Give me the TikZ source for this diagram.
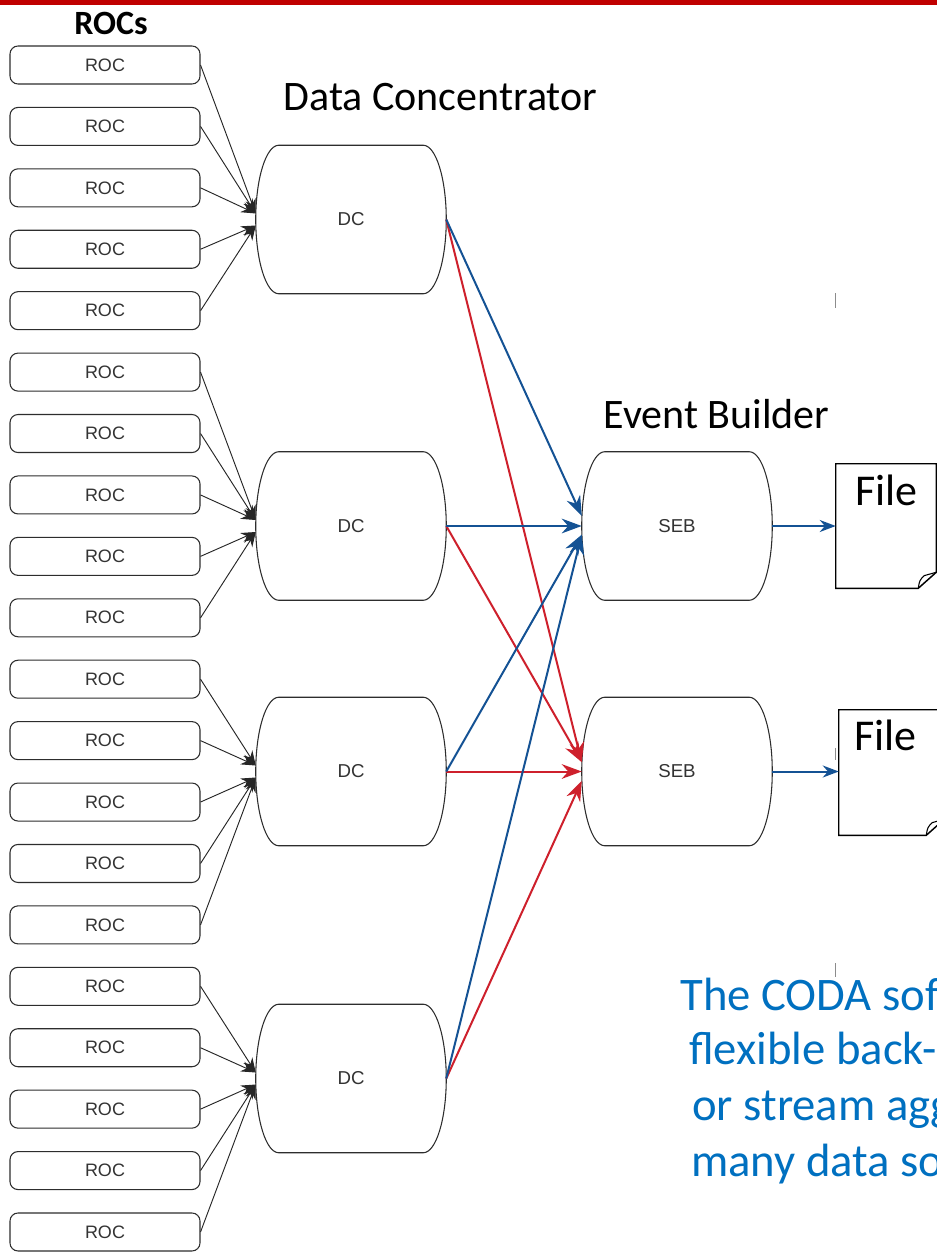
\documentclass[tikz,border=0pt]{standalone}
\usepackage{fontspec}
\newfontfamily\calibri{Carlito}
\newfontfamily\arialf{Liberation Sans}
\usetikzlibrary{arrows.meta}
\definecolor{barred}{RGB}{192,0,0}
\definecolor{linkblue}{RGB}{20,82,148}
\definecolor{linkred}{RGB}{206,32,44}
\definecolor{textblue}{RGB}{0,112,192}
\definecolor{shapegray}{RGB}{45,45,45}
\definecolor{labelgray}{RGB}{51,51,51}
\begin{document}
\begin{tikzpicture}[x=0.75pt,y=-0.75pt,
  roc/.style={draw=shapegray, line width=0.8pt, rounded corners=6pt, minimum width=142.5pt, minimum height=28.5pt, inner sep=0pt, font=\arialf\fontsize{13.5}{16}\selectfont, text=labelgray},
  barrel/.style={minimum width=142.5pt, minimum height=111pt, inner sep=0pt, font=\arialf\fontsize{14}{16}\selectfont, text=labelgray},
  shapeline/.style={draw=shapegray, line width=0.8pt},
  rocarrow/.style={draw=black!85, line width=0.7pt, -{Stealth[length=11pt,width=8pt]}},
  bluearrow/.style={draw=linkblue, line width=1.5pt, -{Stealth[length=15pt,width=11pt]}},
  redarrow/.style={draw=linkred, line width=1.5pt, -{Stealth[length=15pt,width=11pt]}},
  filearrow/.style={draw=linkblue, line width=1.5pt, -{Stealth[length=12pt,width=9pt]}},
  filebox/.style={minimum width=75pt, minimum height=93pt, inner sep=0pt},
  fileline/.style={draw=black, line width=1.1pt, line join=miter},
  filetext/.style={font=\calibri\fontsize{33}{38}\selectfont, inner sep=0pt},
  titletext/.style={font=\calibri\fontsize{31.5}{36}\selectfont, inner sep=0pt},
  bluetext/.style={font=\calibri\fontsize{35}{40}\selectfont, text=textblue, inner sep=0pt},
  tickmark/.style={draw=black!45, line width=0.6pt}
]
\useasboundingbox (0,0) rectangle (937,1252);
\fill[white] (0,0) rectangle (937,1252);
\clip (0,0) rectangle (937,1252);
\fill[barred] (0,0) rectangle (937,5);

% titles
\node[titletext, font=\calibri\bfseries\fontsize{25.5}{30}\selectfont, anchor=base] (roctitle) at (111,35) {ROCs};
\node[titletext, anchor=base] (dctitle) at (440.5,111) {Data Concentrator};
\node[titletext, anchor=base] (ebtitle) at (716.5,428) {Event Builder};

% ROC boxes
\foreach \i in {1,...,20}
  \node[roc] (roc\i) at (105,{65+61.42*(\i-1)}) {ROC};

% DC and SEB nodes
\node[barrel] (dc1) at (351,219.5) {DC};
\node[barrel] (dc2) at (351,526) {DC};
\node[barrel] (dc3) at (351,771.5) {DC};
\node[barrel] (dc4) at (351,1078.5) {DC};
\node[barrel] (seb1) at (677,526) {SEB};
\node[barrel] (seb2) at (677,771.5) {SEB};

\foreach \n in {dc1,dc2,dc3,dc4,seb1,seb2}
  \draw[shapeline] ([xshift=17.25pt]\n.north west) -- ([xshift=-17.25pt]\n.north east)
    .. controls ([xshift=-7.73pt]\n.north east) and ([yshift=30.64pt]\n.east) .. (\n.east)
    .. controls ([yshift=-30.64pt]\n.east) and ([xshift=-7.73pt]\n.south east) .. ([xshift=-17.25pt]\n.south east)
    -- ([xshift=17.25pt]\n.south west)
    .. controls ([xshift=7.73pt]\n.south west) and ([yshift=-30.64pt]\n.west) .. (\n.west)
    .. controls ([yshift=30.64pt]\n.west) and ([xshift=7.73pt]\n.north west) .. cycle;

% ROC -> DC
\foreach \r/\d/\s in {1/dc1/4.5, 2/dc1/4.5, 3/dc1/4.5, 4/dc1/-4.5, 5/dc1/-4.5,
                      6/dc2/4.5, 7/dc2/4.5, 8/dc2/4.5, 9/dc2/-4.5, 10/dc2/-4.5,
                      11/dc3/4.5, 12/dc3/4.5, 13/dc3/-4.5, 14/dc3/-4.5, 15/dc3/-4.5,
                      16/dc4/4.5, 17/dc4/4.5, 18/dc4/-4.5, 19/dc4/-4.5, 20/dc4/-4.5}
  \draw[rocarrow] (roc\r.east) -- ([yshift=\s pt]\d.west);

% DC -> SEB
\draw[redarrow] (dc1.east) -- ([yshift=7pt]seb2.west);
\draw[redarrow] (dc2.east) -- ([yshift=7pt]seb2.west);
\draw[redarrow] (dc3.east) -- (seb2.west);
\draw[redarrow] (dc4.east) -- ([yshift=-7pt]seb2.west);
\draw[bluearrow] (dc1.east) -- ([yshift=7.5pt]seb1.west);
\draw[bluearrow] (dc2.east) -- (seb1.west);
\draw[bluearrow] (dc3.east) -- ([yshift=-6.5pt]seb1.west);
\draw[bluearrow] (dc4.east) -- ([yshift=-6.5pt]seb1.west);

% Files
\node[filebox] (file1) at (886,526) {};
\node[filebox, minimum width=78.75pt, minimum height=93.75pt] (file2) at (891.5,772.5) {};
\foreach \f in {file1,file2} {
  \draw[fileline] (\f.north west) -- (\f.north east) -- ([yshift=12pt]\f.south east)
    -- ([xshift=-13.5pt]\f.south east) -- (\f.south west) -- cycle;
  \draw[fileline, line width=0.8pt] ([xshift=-13.5pt]\f.south east)
    .. controls ([xshift=-12.5pt,yshift=6pt]\f.south east) .. ([xshift=-9pt,yshift=9.5pt]\f.south east)
    -- ([yshift=12pt]\f.south east);
}
\node[filetext, anchor=base] (file1txt) at (886.5,505) {File};
\node[filetext, anchor=base] (file2txt) at (885.5,750) {File};
\draw[filearrow] (seb1.east) -- (file1.west);
\draw[filearrow] (seb2.east) -- (seb2.east -| file2.west);

% blue text (clipped at right edge, as in the reference)
\node[bluetext, anchor=base west] (t1) at (680,1010) {The CODA sof};
\node[bluetext, anchor=base west] (t2) at (689,1064) {flexible back-};
\node[bluetext, anchor=base west] (t3) at (692,1120) {or stream agg};
\node[bluetext, anchor=base west] (t4) at (691,1176) {many data so};

% small grey marks
\draw[tickmark] (835,293) -- (835,308);
\draw[tickmark] (835,748) -- (835,760);
\draw[tickmark] (835,963) -- (835,977);
\end{tikzpicture}
\end{document}
